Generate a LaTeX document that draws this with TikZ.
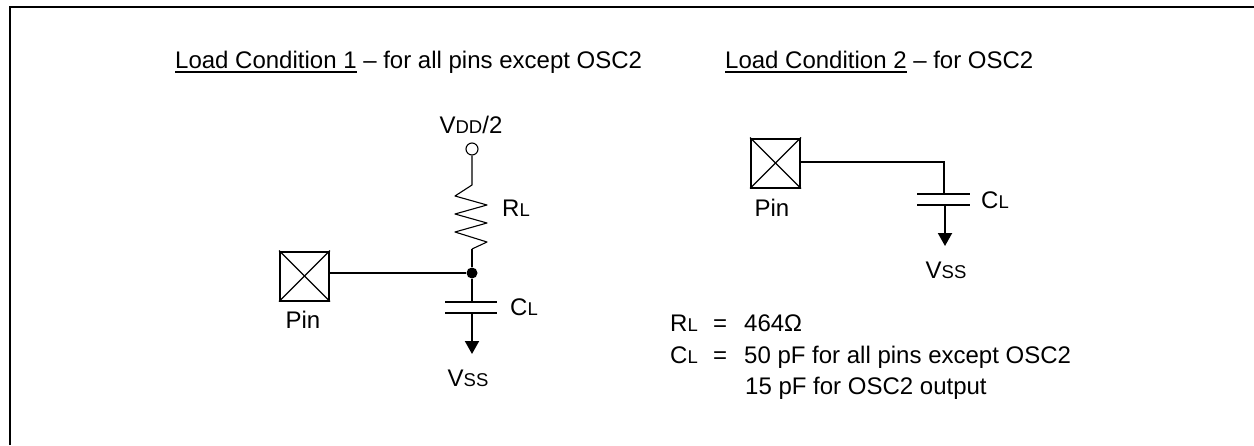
\documentclass[tikz,border=0pt]{standalone}
\usepackage{fontspec}
\setmainfont{Liberation Sans}
\usepackage{tikz}
\usetikzlibrary{arrows.meta}
\newcommand{\lowcap}[1]{{\fontsize{18.5}{22}\selectfont #1}}
\newcommand{\underrule}[1]{\setbox0\hbox{#1}\rlap{\rule[-4.5pt]{\wd0}{2pt}}\box0\relax}
\begin{document}
\begin{tikzpicture}[x=1pt,y=-1pt,font=\fontsize{24}{28}\selectfont]
	\def \lineone{331}
	\def \linetwo{363}
	\def \linethree{394.5}
	\tikzstyle{wire}=[draw=black,line width=2pt]
	\tikzstyle{thin-wire}=[draw=black,line width=1.1pt]
	\tikzstyle{plate}=[draw=black,line width=2pt]
	\tikzstyle{pin-node}=[rectangle,draw=black,line width=2pt,inner sep=0pt,minimum size=49pt]
	\tikzstyle{annot}=[inner sep=0pt,anchor=base west]
	\tikzstyle{label-c}=[inner sep=0pt,anchor=base]
	\tikzstyle{supply}=[-{Triangle[width=14pt,length=13pt]},draw=black,line width=2pt]
	\useasboundingbox (0,0) rectangle (1254,445);

	% frame
	\coordinate (f0) at (10,445);
	\coordinate (f1) at (10,7);
	\coordinate (f2) at (1254,7);
	\draw[line width=2pt,line join=miter] (f0) -- (f1) -- (f2);

	% headings
	\node[annot] (head-one) at (175,68) {\underrule{Load Condition 1} -- for all pins except OSC2};
	\node[annot] (head-two) at (725,68) {\underrule{Load Condition 2} -- for OSC2};

	% load condition 1
	\node[pin-node] (pin-a) at (304.5,276) {};
	\draw[thin-wire] (pin-a.north west) -- (pin-a.south east);
	\draw[thin-wire] (pin-a.north east) -- (pin-a.south west);
	\node[label-c] (pin-a-label) at (303,328) {Pin};
	\node[circle,draw=black,fill=white,thin-wire,inner sep=0pt,minimum size=12pt] (vdd) at (472,149) {};
	\node[label-c] (vdd-label) at (471,133) {V\lowcap{DD}/2};
	\node[circle,fill=black,inner sep=0pt,minimum size=11pt] (junc) at (472,273) {};
	\node[annot] (rl-label) at (502,216) {R\lowcap{L}};
	\node[annot] (cl-a-label) at (510,315) {C\lowcap{L}};
	\node[label-c] (vss-a-label) at (468,386) {V\lowcap{SS}};
	\coordinate (r0) at (472,185);
	\coordinate (r1) at (455,196);
	\coordinate (r2) at (487,205);
	\coordinate (r3) at (455,214);
	\coordinate (r4) at (487,223);
	\coordinate (r5) at (455,232);
	\coordinate (r6) at (487,242);
	\coordinate (r7) at (472,249);
	\coordinate (ca0) at (445,301.5);
	\coordinate (ca1) at (497,301.5);
	\coordinate (ca2) at (445,313);
	\coordinate (ca3) at (497,313);
	\coordinate (ca-top) at (472,301.5);
	\coordinate (ca-bot) at (472,313);
	\coordinate (ca-end) at (472,354);
	\draw[thin-wire,line join=round] (vdd) -- (r0) -- (r1) -- (r2) -- (r3) -- (r4) -- (r5) -- (r6) -- (r7);
	\draw[wire] (r7) -- (junc);
	\draw[wire] (junc) -- (ca-top);
	\draw[wire] (pin-a.east |- junc) -- (junc);
	\draw[plate] (ca0) -- (ca1);
	\draw[plate] (ca2) -- (ca3);
	\draw[supply] (ca-bot) -- (ca-end);

	% load condition 2
	\node[pin-node] (pin-b) at (775.5,163) {};
	\draw[thin-wire] (pin-b.north west) -- (pin-b.south east);
	\draw[thin-wire] (pin-b.north east) -- (pin-b.south west);
	\node[label-c] (pin-b-label) at (772,216) {Pin};
	\node[annot] (cl-b-label) at (981,208) {C\lowcap{L}};
	\node[label-c] (vss-b-label) at (946,278) {V\lowcap{SS}};
	\coordinate (w0) at (801,161.5);
	\coordinate (w1) at (944,161.5);
	\coordinate (cb-top) at (944,194);
	\coordinate (cb-bot) at (945,205);
	\coordinate (cb-end) at (945,246);
	\coordinate (cb0) at (917,194);
	\coordinate (cb1) at (970,194);
	\coordinate (cb2) at (917,205);
	\coordinate (cb3) at (970,205);
	\draw[wire,line join=miter] (w0) -- (w1) -- (cb-top);
	\draw[plate] (cb0) -- (cb1);
	\draw[plate] (cb2) -- (cb3);
	\draw[supply] (cb-bot) -- (cb-end);

	% values
	\node[annot] (rl-name) at (670,\lineone) {R\lowcap{L}};
	\node[annot] (rl-eq) at (713,\lineone) {=};
	\node[annot] (rl-val) at (744,\lineone) {464Ω};
	\node[annot] (cl-name) at (670,\linetwo) {C\lowcap{L}};
	\node[annot] (cl-eq) at (713,\linetwo) {=};
	\node[annot] (cl-val) at (744,\linetwo) {50 pF for all pins except OSC2};
	\node[annot] (cl-val-two) at (745,\linethree) {15 pF for OSC2 output};
\end{tikzpicture}
\end{document}
